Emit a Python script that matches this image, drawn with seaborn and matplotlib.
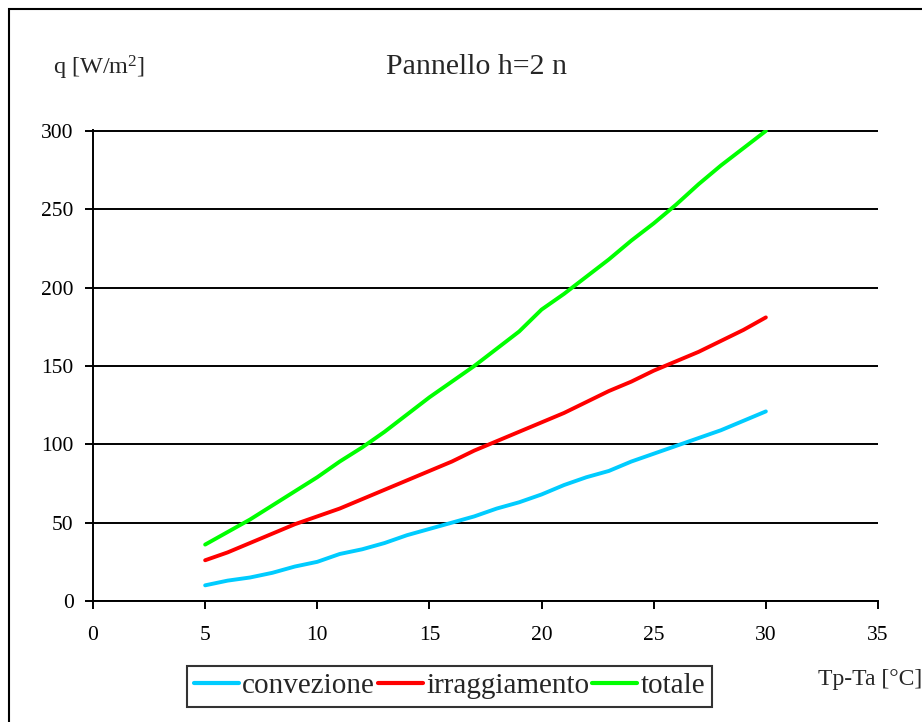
import numpy as np
import pandas as pd
import matplotlib
matplotlib.use("Agg")
import matplotlib.pyplot as plt
import seaborn as sns
from matplotlib.patches import Rectangle

# ---- data ----
dT = [5, 6, 7, 8, 9, 10, 11, 12, 13, 14, 15, 16, 17, 18, 19, 20,
      21, 22, 23, 24, 25, 26, 27, 28, 29, 30]
convezione = [10, 13, 15, 18, 22, 25, 30, 33, 37, 42, 46, 50, 54, 59, 63, 68,
              74, 79, 83, 89, 94, 99, 104, 109, 115, 121]
irraggiamento = [26, 31, 37, 43, 49, 54, 59, 65, 71, 77, 83, 89, 96, 102, 108, 114,
                 120, 127, 134, 140, 147, 153, 159, 166, 173, 181]
totale = [36, 44, 52, 61, 70, 79, 89, 98, 108, 119, 130, 140, 150, 161, 172, 186,
          196, 207, 218, 230, 241, 253, 266, 278, 289, 300]
series_names = ["convezione", "irraggiamento", "totale"]
colors = ["#00CCFF", "#FF0000", "#00FF00"]
x_ticks = [0, 5, 10, 15, 20, 25, 30, 35]
y_ticks = [0, 50, 100, 150, 200, 250, 300]
title = "Pannello h=2 n"
ylabel = "q [W/m$^{2}$]"
xlabel = "Tp-Ta [°C]"

df = pd.concat([
    pd.DataFrame({"dT": dT, "q": vals, "serie": name})
    for name, vals in zip(series_names, [convezione, irraggiamento, totale])
])

sns.set_style("white")
plt.rcParams["font.family"] = ["Liberation Serif", "DejaVu Serif"]
plt.rcParams["mathtext.fontset"] = "custom"
plt.rcParams["mathtext.rm"] = "Liberation Serif"
plt.rcParams["mathtext.default"] = "regular"

fig = plt.figure(figsize=(9.22, 7.22), dpi=100)
ax = fig.add_axes([93 / 922, 1 - 601 / 722, (878 - 93) / 922, (601 - 130) / 722])

sns.lineplot(data=df, x="dT", y="q", hue="serie", palette=colors,
             hue_order=series_names, linewidth=2.8, ax=ax, legend=True)

ax.set_xlim(0, 35)
ax.set_ylim(0, 300.6)
ax.set_xticks(x_ticks)
ax.set_yticks(y_ticks)
ax.set_xlabel("")
ax.set_ylabel("")
ax.yaxis.grid(True, color="black", linewidth=1.4)
ax.xaxis.grid(False)
ax.set_axisbelow(True)
for s in ["top", "right"]:
    ax.spines[s].set_visible(False)
for s in ["left", "bottom"]:
    ax.spines[s].set_color("black")
    ax.spines[s].set_linewidth(1.4)
ax.tick_params(axis="both", direction="out", length=6, width=1.4, color="black",
               labelsize=15.5, labelcolor="black")
ax.tick_params(axis="y", pad=8, left=True)
ax.tick_params(axis="x", pad=12, bottom=True)

# texts
fig.text(476 / 922, 1 - 74 / 722, title, ha="center", va="baseline", fontsize=21.5)
fig.text(53 / 922, 1 - 74 / 722, ylabel, ha="left", va="baseline", fontsize=17.5)
fig.text(818 / 922, 1 - 685 / 722, xlabel, ha="left", va="baseline", fontsize=17)

# legend
handles, labels = ax.get_legend_handles_labels()
if ax.legend_:
    ax.legend_.remove()
leg = fig.legend(handles, labels, loc="center", bbox_to_anchor=(449.5 / 922, 1 - 686 / 722),
                 ncol=3, frameon=True, fancybox=False, edgecolor="black",
                 handlelength=1.55, handletextpad=0.1, columnspacing=0.1,
                 borderpad=0.25, borderaxespad=0, prop={"size": 21})
leg.get_frame().set_linewidth(1.5)
for ln in leg.get_lines():
    ln.set_linewidth(3)

# outer chart frame
fig.patches.append(Rectangle((9 / 922, -0.05), 1.2, 1 - 9 / 722 + 0.05,
                             transform=fig.transFigure, fill=False,
                             edgecolor="black", linewidth=1.5))

fig.savefig("out.png", dpi=100)
